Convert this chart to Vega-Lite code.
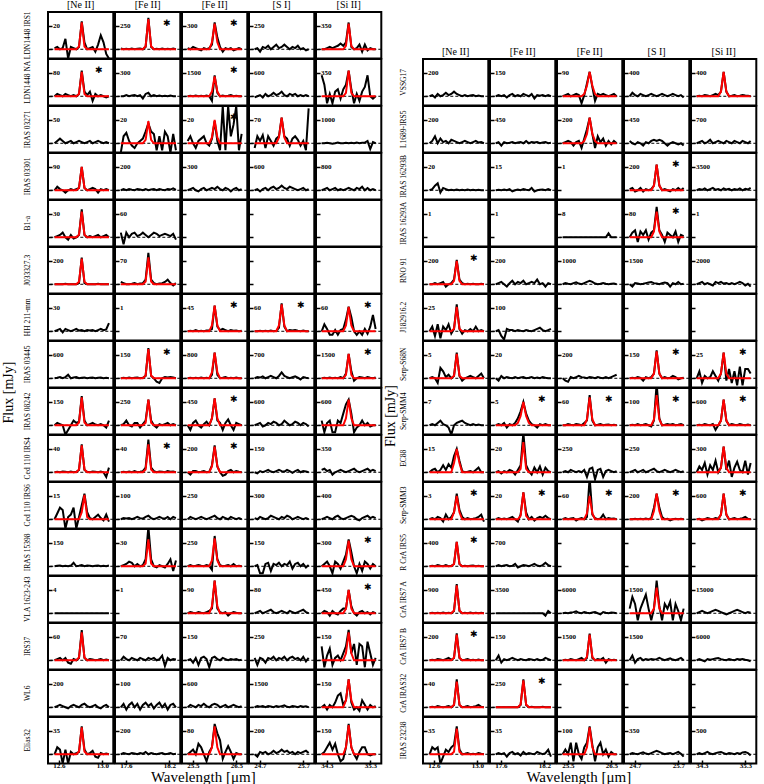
{
"$schema":"https://vega.github.io/schema/vega-lite/v6.json",
"padding":{"left":1,"right":0,"top":0,"bottom":0},
"background":"white",
"datasets":{
"grid":[
{"c":1,"n":"[Ne II]","w":[12.56,12.585,12.61,12.635,12.66,12.685,12.71,12.735,12.76,12.785,12.81,12.835,12.86,12.885,12.91,12.935,12.96,12.985,13.01,13.035,13.06]},
{"c":2,"n":"[Fe II]","w":[17.53,17.568,17.606,17.644,17.682,17.72,17.758,17.796,17.834,17.872,17.91,17.948,17.986,18.024,18.062,18.1,18.138,18.176,18.214,18.252,18.29]},
{"c":3,"n":"[Fe II]","w":[25.38,25.442,25.504,25.566,25.628,25.69,25.752,25.814,25.876,25.938,26.0,26.062,26.124,26.186,26.248,26.31,26.372,26.434,26.496,26.558,26.62]},
{"c":4,"n":"[S I]","w":[24.58,24.642,24.704,24.766,24.828,24.89,24.952,25.014,25.076,25.138,25.2,25.262,25.324,25.386,25.448,25.51,25.572,25.634,25.696,25.758,25.82]},
{"c":5,"n":"[Si II]","w":[34.18,34.242,34.304,34.366,34.428,34.49,34.552,34.614,34.676,34.738,34.8,34.862,34.924,34.986,35.048,35.11,35.172,35.234,35.296,35.358,35.42]}
],
"panels":[
{"g":"L","o":1,"s":"LDN1448 IRS1","c":1,"t":"20","f":[0.05,0.1,0,0.05,0.45,-0.4,0.1,0.05,0,0.1,1.2,0.3,0,0.05,0.1,-0.1,0.2,0.6,0.3,-0.2,-0.4],"r":[0,0,0,0,0,0,0,0,0,0.12,1.15,0.12,0,0,0,0,0,0,0,0,0]},
{"g":"L","o":1,"s":"LDN1448 IRS1","c":2,"t":"250","k":1,"f":[0.03,0,0.02,0,0.03,0,0.02,0.03,0,0.1,1.35,0.1,0,0.02,0,0.03,0,0.02,0,0.03,0],"r":[0,0,0,0,0,0,0,0,0,0.13,1.3,0.13,0,0,0,0,0,0,0,0,0]},
{"g":"L","o":1,"s":"LDN1448 IRS1","c":3,"t":"300","k":1,"f":[0.05,0,0.1,0.05,0,-0.05,0.05,0,0.05,0.2,1.15,0.5,0.1,-0.1,0.05,0,0.05,-0.05,0,0.05,0],"r":[0,0,0,0,0,0,0,0,0,0.3,1.1,0.3,0,0,0,0,0,0,0,0,0]},
{"g":"L","o":1,"s":"LDN1448 IRS1","c":4,"t":"250","f":[0,0.05,-0.1,0.1,0.05,0.15,0,0.1,0.2,0.05,0.1,0.2,0.1,0,0.1,0.05,0.15,0,0.05,-0.05,0],"r":[]},
{"g":"L","o":1,"s":"LDN1448 IRS1","c":5,"t":"350","f":[0,0,0.05,0.1,0.05,0.1,0.15,0.25,0.15,0.3,1.15,0.1,0,0.05,0.2,-0.1,0.2,-0.05,0.05,0,0],"r":[0,0,0,0,0,0,0,0,0,0.15,1.1,0.15,0,0,0,0,0,0,0,0,0]},
{"g":"L","o":2,"s":"LDN1448 NA","c":1,"t":"80","k":1,"f":[0,0.1,0.05,0,0.1,0.05,0,0.05,0,0.1,1.1,0.2,0.05,0.2,-0.2,0.1,0,0.05,0,-0.05,0],"r":[0,0,0,0,0,0,0,0,0,0.1,1.05,0.1,0,0,0,0,0,0,0,0,0]},
{"g":"L","o":2,"s":"LDN1448 NA","c":2,"t":"300","f":[0,0,0.05,0,0.03,0.05,0,0.05,-0.1,0.1,0.15,0,0.05,0,0.03,0,0.02,0,0.03,0,0],"r":[]},
{"g":"L","o":2,"s":"LDN1448 NA","c":3,"t":"1500","k":1,"f":[0,0.02,0,0.03,0,0.02,0,0.03,0,-0.2,0.9,0.15,0,0.03,0,0.02,0.05,0,0.02,0,0],"r":[0,0,0,0,0,0,0,0,0,0.2,0.85,0.2,0,0,0,0,0,0,0,0,0]},
{"g":"L","o":2,"s":"LDN1448 NA","c":4,"t":"600","f":[-0.05,0,0.05,-0.05,0.1,0,0.05,0.15,0.05,0.1,0.2,0.05,0,0.1,0.05,0.1,0,0.05,0,0.05,0],"r":[]},
{"g":"L","o":2,"s":"LDN1448 NA","c":5,"t":"350","f":[0.9,0.5,-0.3,0.1,-0.3,0.2,0.3,-0.1,0.3,0.5,1.1,0.3,-0.3,0.1,-0.2,0.2,0.4,0.9,0,-0.1,0],"r":[0,0,0,0,0,0,0,0,0,0.15,1.1,0.15,0,0,0,0,0,0,0,0,0]},
{"g":"L","o":3,"s":"IRAS 03271","c":1,"t":"50","f":[0,0.1,0.2,0.1,0,0.05,0.1,0,0.05,0.1,0.05,0,0.05,0.1,0,0.05,0.1,0.05,0,0.05,0],"r":[]},
{"g":"L","o":3,"s":"IRAS 03271","c":2,"t":"20","f":[-0.4,0.3,0.45,0.1,-0.1,-0.2,0,0.1,0.2,0.5,0.85,0.5,0.4,-0.3,0.3,-0.3,0.5,0.3,-0.4,0.4,-0.3],"r":[0,0,0,0,0,0,0,0,0,0.15,0.95,0.15,0,0,0,0,0,0,0,0,0]},
{"g":"L","o":3,"s":"IRAS 03271","c":3,"t":"20","k":1,"f":[0.1,0.3,0,-0.2,0.1,0.2,0.3,0,-0.1,0.2,0.95,0.1,-0.3,1.6,-0.3,1.6,0.3,0.8,1.6,-0.3,0.4],"r":[0,0,0,0,0,0,0,0,0,0.25,1.0,0.25,0,0,0,0,0,0,0,0,0]},
{"g":"L","o":3,"s":"IRAS 03271","c":4,"t":"70","f":[-0.2,0.3,0.1,0.35,-0.2,0.3,0.1,-0.1,0.2,0.3,1.1,0.3,0.2,-0.1,0.2,0.3,0.15,-0.1,0.1,-0.3,1.5],"r":[0,0,0,0,0,0,0,0,0,0.25,1.1,0.25,0,0,0,0,0,0,0,0,0]},
{"g":"L","o":3,"s":"IRAS 03271","c":5,"t":"1000","f":[0,0,0.02,0,-0.02,0,0.03,0,0,0.02,0,0.02,0,0.03,0,0.02,0.03,0.1,-0.25,0.05,0],"r":[]},
{"g":"L","o":4,"s":"IRAS 03301","c":1,"t":"90","f":[0,0.15,0.05,0,-0.1,0,0.05,0,0.05,0.1,1.0,0.1,0,0.05,0.1,0.05,-0.1,0.05,0,0.05,0],"r":[0,0,0,0,0,0,0,0,0,0.1,1.0,0.1,0,0,0,0,0,0,0,0,0]},
{"g":"L","o":4,"s":"IRAS 03301","c":2,"t":"200","f":[0,0.05,0,0.05,0.02,0,0.05,0.03,0,0.05,0,0.03,0.05,0,0.05,0.02,0,0.05,0.03,0.08,0.02],"r":[]},
{"g":"L","o":4,"s":"IRAS 03301","c":3,"t":"300","f":[0,0.05,0.1,0,-0.05,0.05,0.1,0,0.05,0.1,0.05,0.15,0.05,0,0.1,0.05,-0.05,0.05,0.1,0,0.05],"r":[]},
{"g":"L","o":4,"s":"IRAS 03301","c":4,"t":"600","f":[0,0.05,-0.05,0.05,0.1,0,0.1,0.15,0.05,0.1,0.2,0.1,0.05,0.15,0.1,0.05,0,0.05,0.1,0,0.05],"r":[]},
{"g":"L","o":4,"s":"IRAS 03301","c":5,"t":"800","f":[0,0.05,0.1,0,0.05,0.1,0,0.05,0,0.05,0.1,0.05,0,0.1,0.05,0.15,0,0.1,0,0.05,0],"r":[]},
{"g":"L","o":5,"s":"B1-a","c":1,"t":"30","f":[0,0.05,0.1,0.2,0,-0.1,0.1,-0.05,0,0.1,1.2,0.1,0,0.05,0,0.05,0.1,0,0.05,0.1,0],"r":[0,0,0,0,0,0,0,0,0,0.11,1.1,0.11,0,0,0,0,0,0,0,0,0]},
{"g":"L","o":5,"s":"B1-a","c":2,"t":"60","f":[0.2,-0.3,0.2,0,0.15,0.2,0.05,0.1,0.2,0.1,0,0.1,0.2,0.15,0.05,0.1,0.15,0.1,0.05,0.15,-0.1],"r":[]},
{"g":"L","o":5,"s":"B1-a","c":3,"t":"","f":[],"r":[]},
{"g":"L","o":5,"s":"B1-a","c":4,"t":"","f":[],"r":[]},
{"g":"L","o":5,"s":"B1-a","c":5,"t":"","f":[],"r":[]},
{"g":"L","o":6,"s":"J033327.3","c":1,"t":"200","f":[0,0,0,0,0.02,0,0,0,0,0.05,1.15,0.05,0,0,0,0,0.02,0,0,0,0],"r":[0,0,0,0,0,0,0,0,0,0.11,1.1,0.11,0,0,0,0,0,0,0,0,0]},
{"g":"L","o":6,"s":"J033327.3","c":2,"t":"70","f":[0.1,0.05,0,0,0.02,0.05,0,0.03,0.05,0.2,1.35,0.2,0.05,0,0.03,0.05,0.1,0.2,0.05,-0.05,0.05],"r":[0,0,0,0,0,0,0,0,0,0.12,1.15,0.12,0,0,0,0,0,0,0,0,0]},
{"g":"L","o":6,"s":"J033327.3","c":3,"t":"","f":[],"r":[]},
{"g":"L","o":6,"s":"J033327.3","c":4,"t":"","f":[],"r":[]},
{"g":"L","o":6,"s":"J033327.3","c":5,"t":"","f":[],"r":[]},
{"g":"L","o":7,"s":"HH 211-mm","c":1,"t":"30","f":[0,0.05,0.1,-0.05,0.1,0.05,0,0.05,0.1,0.03,0.05,0,0.05,0.03,0.05,0,0.05,0.1,0.05,0.08,0.35],"r":[]},
{"g":"L","o":7,"s":"HH 211-mm","c":2,"t":"1","f":[],"r":[]},
{"g":"L","o":7,"s":"HH 211-mm","c":3,"t":"45","k":1,"f":[0,0.02,0,0.05,0,0.02,0,0.03,0.05,0.1,1.1,0.2,0.05,0.1,0.05,0,0.05,0.02,0.03,0,0.02],"r":[0,0,0,0,0,0,0,0,0,0.25,1.1,0.25,0,0,0,0,0,0,0,0,0]},
{"g":"L","o":7,"s":"HH 211-mm","c":4,"t":"60","k":1,"f":[0,0,0.02,0,0.02,0,0.03,0,0.02,0.15,1.2,0.2,0,0.05,0.03,0.05,0.02,0,0.03,0,0],"r":[0,0,0,0,0,0,0,0,0,0.25,1.15,0.25,0,0,0,0,0,0,0,0,0]},
{"g":"L","o":7,"s":"HH 211-mm","c":5,"t":"60","k":1,"f":[0,0.3,0.1,-0.15,-0.15,0.05,-0.15,0.05,0.1,0.5,1.05,0.6,0,-0.15,0,-0.15,0.1,-0.1,0.2,0.7,0.1],"r":[0,0,0,0,0,0,0,0,0,0.25,1.05,0.25,0,0,0,0,0,0,0,0,0]},
{"g":"L","o":8,"s":"IRAS 03445","c":1,"t":"600","f":[0,0.02,0.05,0,0.05,0.15,0,0.03,0.05,0,0.02,0.03,0,0.02,0.03,0,0.02,0.03,0,0.02,0],"r":[]},
{"g":"L","o":8,"s":"IRAS 03445","c":2,"t":"150","k":1,"f":[0,0.02,0,0.03,0,0.02,0.03,0,0.02,0.1,1.3,0.1,0,-0.15,-0.2,0,0.05,0.03,0.05,0.03,0],"r":[0,0,0,0,0,0,0,0,0,0.12,1.25,0.12,0,0,0,0,0,0,0,0,0]},
{"g":"L","o":8,"s":"IRAS 03445","c":3,"t":"800","f":[0,0.02,0,0.02,0,0.03,0,0.02,0,0.15,1.1,0.15,0,0.02,0.05,0,0.02,0,0.03,0,0],"r":[0,0,0,0,0,0,0,0,0,0.25,1.1,0.25,0,0,0,0,0,0,0,0,0]},
{"g":"L","o":8,"s":"IRAS 03445","c":4,"t":"700","f":[0,0.05,0.03,0.08,0,0.05,0.1,0.05,0,0.1,0.25,0.1,0.05,0,0.05,0.08,0.03,-0.05,0.05,0.02,0],"r":[]},
{"g":"L","o":8,"s":"IRAS 03445","c":5,"t":"1500","k":1,"f":[0,0.02,0,0.03,0,0.02,0,0.05,0,0.2,1.05,0.3,-0.1,0,0.05,0.03,0,0.05,0.02,0,0.03],"r":[0,0,0,0,0,0,0,0,0,0.15,1.05,0.15,0,0,0,0,0,0,0,0,0]},
{"g":"L","o":9,"s":"IRAS 08242","c":1,"t":"150","f":[0,0.1,0.05,0,-0.4,-0.2,0,0.2,0.1,0.15,1.25,0.2,0,0.05,0.1,0.03,0,0.05,0,-0.1,0.2],"r":[0,0,0,0,0,0,0,0,0,0.12,1.2,0.12,0,0,0,0,0,0,0,0,0]},
{"g":"L","o":9,"s":"IRAS 08242","c":2,"t":"250","f":[0,0.05,0.2,0,-0.05,0.1,0.1,-0.1,0.05,0.2,1.1,0.2,0,-0.1,0.05,0,0.05,0.1,0,0.05,0],"r":[0,0,0,0,0,0,0,0,0,0.11,1.1,0.11,0,0,0,0,0,0,0,0,0]},
{"g":"L","o":9,"s":"IRAS 08242","c":3,"t":"450","k":1,"f":[0,-0.2,0.1,0.2,0,-0.1,0.05,0.15,0,0.3,1.15,0.2,0.1,-0.2,0.1,0.25,0,-0.2,0.1,0.05,0],"r":[0,0,0,0,0,0,0,0,0,0.3,1.15,0.3,0,0,0,0,0,0,0,0,0]},
{"g":"L","o":9,"s":"IRAS 08242","c":4,"t":"600","f":[0,0.05,0.1,-0.05,0,0.1,0.05,0.15,0.1,0,0.05,0.2,0.1,0,0.05,0.15,0.1,0,0.1,0.05,-0.05],"r":[]},
{"g":"L","o":9,"s":"IRAS 08242","c":5,"t":"600","f":[0.2,-0.3,0.1,0.2,-0.3,-0.3,0.2,0.1,0.5,0.9,1.1,0.5,-0.3,-0.1,0,0.2,0,0.1,-0.05,0,0],"r":[0,0,0,0,0,0,0,0,0,0.3,1.1,0.3,0,0,0,0,0,0,0,0,0]},
{"g":"L","o":10,"s":"Ced 110 IRS4","c":1,"t":"40","f":[0,0.02,0,0.03,0.02,0,0.03,0,0.02,0.1,1.2,0.1,0.02,0,0.03,0.02,0,0.03,0,-0.2,0.2],"r":[0,0,0,0,0,0,0,0,0,0.12,1.15,0.12,0,0,0,0,0,0,0,0,0]},
{"g":"L","o":10,"s":"Ced 110 IRS4","c":2,"t":"40","k":1,"f":[0,0.02,0,0.03,0,0.05,0,0.02,0.05,0.2,1.4,0.2,0.05,0,0.03,0.02,0,0.05,0.02,0.03,0],"r":[0,0,0,0,0,0,0,0,0,0.12,1.2,0.12,0,0,0,0,0,0,0,0,0]},
{"g":"L","o":10,"s":"Ced 110 IRS4","c":3,"t":"200","k":1,"f":[0,-0.1,0.05,0.05,0,0.02,0.05,0,0.02,0.3,1.15,0.25,0,-0.15,-0.1,0.05,0.1,0,0.05,0.02,0],"r":[0,0,0,0,0,0,0,0,0,0.25,1.1,0.25,0,0,0,0,0,0,0,0,0]},
{"g":"L","o":10,"s":"Ced 110 IRS4","c":4,"t":"150","f":[0,-0.05,0.05,0,0.05,0.1,0.03,0,0.05,0.1,0.05,0.03,0.1,0.05,-0.02,0.05,0.1,0,0.05,0.03,0],"r":[]},
{"g":"L","o":10,"s":"Ced 110 IRS4","c":5,"t":"350","f":[0.1,0.15,0.05,0.1,-0.1,0,0.05,0.1,0.05,0,0.05,0.1,0.15,0.05,0,0.05,0.1,0.15,0.05,0.1,0.05],"r":[]},
{"g":"L","o":11,"s":"Ced 110 IRS6","c":1,"t":"15","f":[0,0.25,0.5,0.4,-0.4,0.1,0.2,0.5,-0.4,0.1,0.6,1.1,0.3,0.05,0,0.1,0.2,0.05,-0.05,0.2,-0.1],"r":[0,0,0,0,0,0,0,0,0,0,0.3,1.05,0.1,0,0,0,0,0,0,0,0]},
{"g":"L","o":11,"s":"Ced 110 IRS6","c":2,"t":"100","f":[0,0.05,0.03,0.05,0,0.05,0.1,0.05,0.03,0.1,0.15,0.05,0,0.05,0.1,0.05,0.03,0.1,0,0.1,0.05],"r":[]},
{"g":"L","o":11,"s":"Ced 110 IRS6","c":3,"t":"250","f":[0,0.1,0.05,0,0.05,0.1,0.05,0,0.05,0.1,0.15,0.05,0,0.1,0.05,0,0.1,0.05,0,0.05,0],"r":[]},
{"g":"L","o":11,"s":"Ced 110 IRS6","c":4,"t":"300","f":[0.05,0,0.1,0.05,0,0.05,0.15,0.1,0.05,0,0.1,0.05,0.15,0.1,0,0.05,0.1,0.05,0,0.05,0],"r":[]},
{"g":"L","o":11,"s":"Ced 110 IRS6","c":5,"t":"400","f":[0,0.05,0.1,0.05,0,0.1,0.15,0.05,0,0.05,0.1,0.15,0.1,0,-0.05,0.05,0.1,0.15,0.05,0.1,0.05],"r":[]},
{"g":"L","o":12,"s":"IRAS 15398","c":1,"t":"150","f":[0,0.02,0.03,0,0.02,0,0.03,0.15,0,0.02,0.05,0,0.03,0.02,0,0.02,0.03,0,0.02,0,0.03],"r":[]},
{"g":"L","o":12,"s":"IRAS 15398","c":2,"t":"30","f":[0,0.05,0.1,0.2,0.15,0,0.1,0,0.05,0.3,1.7,0.3,0,-0.05,0.05,0,-0.05,0.1,0.3,-0.2,0.25],"r":[0,0,0,0,0,0,0,0,0,0.12,1.15,0.12,0,0,0,0,0,0,0,0,0]},
{"g":"L","o":12,"s":"IRAS 15398","c":3,"t":"250","f":[0,0.05,0,0.02,0.05,0.02,0,0.05,0.02,-0.15,1.3,0.3,0.05,0,0.02,0.05,0,0.1,0,0.02,0],"r":[0,0,0,0,0,0,0,0,0,0.25,1.2,0.25,0,0,0,0,0,0,0,0,0]},
{"g":"L","o":12,"s":"IRAS 15398","c":4,"t":"150","f":[0,0.05,-0.3,-0.3,0.1,0.15,-0.2,0.1,0.05,0.15,0,0.1,0.05,0.2,-0.1,0.1,0.15,0,0.1,-0.05,0.05],"r":[]},
{"g":"L","o":12,"s":"IRAS 15398","c":5,"t":"300","k":1,"f":[0,0.1,0.2,0,-0.3,0.2,0.1,-0.1,0.2,0.5,1.15,0.6,0,-0.3,0.1,-0.2,0.2,0.1,-0.1,0.1,0],"r":[0,0,0,0,0,0,0,0,0,0.3,1.1,0.3,0,0,0,0,0,0,0,0,0]},
{"g":"L","o":13,"s":"VLA 1623-243","c":1,"t":"4","f":[0,0,0,0,0,0,0,0,0,0,0,0,0,0,0,0,0,0,0,0,0],"r":[]},
{"g":"L","o":13,"s":"VLA 1623-243","c":2,"t":"1","f":[],"r":[]},
{"g":"L","o":13,"s":"VLA 1623-243","c":3,"t":"90","f":[0,0.05,0.02,0,0.05,0.02,0,0.05,0.1,0.2,1.4,0.2,0.05,0,0.05,-0.1,0,0.05,0.02,0,0],"r":[0,0,0,0,0,0,0,0,0,0.3,1.4,0.3,0,0,0,0,0,0,0,0,0]},
{"g":"L","o":13,"s":"VLA 1623-243","c":4,"t":"80","f":[0,0.05,0.1,0,0.05,0.1,0.15,0.05,0,0.05,0.1,0.05,0,0.1,0.05,0,0.05,0.1,0.15,0.05,0],"r":[]},
{"g":"L","o":13,"s":"VLA 1623-243","c":5,"t":"450","k":1,"f":[0,0.1,0.05,-0.1,0.1,0,-0.05,0.1,0.2,0.2,1.0,0.3,0,-0.1,0.05,0.1,0,0.05,-0.05,0.05,0],"r":[0,0,0,0,0,0,0,0,0,0.2,1.0,0.2,0,0,0,0,0,0,0,0,0]},
{"g":"L","o":14,"s":"IRS37","c":1,"t":"60","f":[0,0.05,0.1,0,0.1,-0.1,-0.15,0.05,0,0.1,1.3,0.1,0,0.05,0.03,0,0.02,0.05,0,0.03,0],"r":[0,0,0,0,0,0,0,0,0,0.12,1.2,0.12,0,0,0,0,0,0,0,0,0]},
{"g":"L","o":14,"s":"IRS37","c":2,"t":"70","f":[0,0.15,0.05,0,0.1,0.05,0,0.1,0.05,0,0.1,0.05,0.1,0,0.05,0.2,-0.25,0.1,0,0.05,0.03],"r":[]},
{"g":"L","o":14,"s":"IRS37","c":3,"t":"150","f":[0,0.05,-0.1,0.1,-0.2,0.1,0.15,0.05,-0.3,0.1,0.15,0.05,0,0.1,0.05,0,0.05,0.02,0.05,0,0.02],"r":[]},
{"g":"L","o":14,"s":"IRS37","c":4,"t":"250","f":[0.1,-0.2,0.1,0.05,-0.1,0.1,0.05,0.15,0,0.1,0.05,0.15,0,0.1,0.15,0.05,0.1,0,0.15,-0.05,0.1],"r":[]},
{"g":"L","o":14,"s":"IRS37","c":5,"t":"150","f":[0.6,-0.3,0.2,0.5,-0.2,0.1,0.2,0,0.3,0.6,1.3,0.3,0.7,-0.2,0.7,0.6,-0.3,0.8,0.3,-0.2,0.1],"r":[0,0,0,0,0,0,0,0,0,0.3,1.2,0.3,0,0,0,0,0,0,0,0,0]},
{"g":"L","o":15,"s":"WL6","c":1,"t":"200","f":[0,0.05,0.1,0.05,0,-0.05,0.05,0.1,0.05,0,0.1,0.15,0.05,0,0.05,0.1,0,-0.05,0.05,0.1,0],"r":[]},
{"g":"L","o":15,"s":"WL6","c":2,"t":"100","f":[0,0.15,-0.1,0.1,0.2,0,0.15,-0.1,0.1,0.2,0.05,0.15,-0.05,0.1,0.2,0,0.15,-0.1,0.1,0.15,0],"r":[]},
{"g":"L","o":15,"s":"WL6","c":3,"t":"600","f":[0,0.1,0.05,0,0.1,0.05,0.15,0.05,0,0.1,0.15,0.1,0,0.05,0.1,0,0.05,0.1,0.05,0,0.05],"r":[]},
{"g":"L","o":15,"s":"WL6","c":4,"t":"1500","f":[0,0.05,0.02,0.05,0,0.05,0.03,0,0.05,0.02,0.05,0.08,0.02,0,0.05,0.03,0,0.05,0.02,0.04,0],"r":[]},
{"g":"L","o":15,"s":"WL6","c":5,"t":"150","f":[0,0.1,-0.1,0.1,0,0.2,0.5,0.6,0.1,0.3,1.2,0.2,-0.1,0,-0.15,0.3,0.1,-0.1,0.1,0,0.05],"r":[0,0,0,0,0,0,0,0,0,0.3,1.2,0.3,0,0,0,0,0,0,0,0,0]},
{"g":"L","o":16,"s":"Elias32","c":1,"t":"35","f":[0,0.3,0.2,-0.4,0.2,-0.4,0.1,0,0.05,0.1,1.2,0.2,0,0.05,0.15,-0.1,-0.15,0.05,0,0.03,0],"r":[0,0,0,0,0,0,0,0,0,0.12,1.15,0.12,0,0,0,0,0,0,0,0,0]},
{"g":"L","o":16,"s":"Elias32","c":2,"t":"200","f":[0,0.05,0.02,0,0.05,0.03,0,0.05,0.02,0.1,0,0.05,0.02,0,0.03,0.05,0,0.02,0.05,0,0.02],"r":[]},
{"g":"L","o":16,"s":"Elias32","c":3,"t":"80","f":[0,0.1,0.2,0,0.45,0.3,0,-0.3,0.1,0.3,1.3,0.9,0.6,-0.2,0.1,0.35,0.1,-0.2,0.05,0,0],"r":[0,0,0,0,0,0,0,0,0,0.3,1.2,0.3,0,0,0,0,0,0,0,0,0]},
{"g":"L","o":16,"s":"Elias32","c":4,"t":"200","f":[0,-0.1,0.1,0.05,0.1,0,0.05,0.15,0.05,0.1,0.2,0.1,0.15,0.05,0.1,0,0.1,0.05,0.1,0.15,0.05],"r":[]},
{"g":"L","o":16,"s":"Elias32","c":5,"t":"150","f":[0,0.1,0.3,0.5,0.2,0.45,0,-0.3,-0.2,0.3,1.3,0.3,0,-0.2,0.1,0.3,0.3,0,-0.05,0,0],"r":[0,0,0,0,0,0,0,0,0,0.3,1.25,0.3,0,0,0,0,0,0,0,0,0]},
{"g":"R","o":1,"s":"VSSG17","c":1,"t":"200","f":[0,0.05,-0.05,0.1,0,0.05,0.15,0.05,0.1,0.2,0.1,0.05,0,0.05,0,0.03,0.05,0,0.03,0,0],"r":[]},
{"g":"R","o":1,"s":"VSSG17","c":2,"t":"150","f":[0,0.05,0,0.05,-0.05,0.05,0.1,0,0.05,0,0.1,0.05,0,0.1,-0.1,0.05,0.02,0.05,0,0.05,0],"r":[]},
{"g":"R","o":1,"s":"VSSG17","c":3,"t":"90","f":[0,0.05,0.1,0,0.05,0.1,0.05,-0.3,0.05,0.55,1.05,0.4,-0.2,0.1,0.05,0.1,0.05,0,0.05,0.1,0],"r":[0,0,0,0,0,0,0,0,0.1,0.45,1.05,0.45,0.1,0,0,0,0,0,0,0,0]},
{"g":"R","o":1,"s":"VSSG17","c":4,"t":"400","f":[0,0.15,0.05,0,0.1,0.05,0,0.05,0.1,0.05,0,0.05,0.1,0.05,0,0.05,0.1,0.05,0,0.05,-0.05],"r":[]},
{"g":"R","o":1,"s":"VSSG17","c":5,"t":"400","f":[0,0.02,0,0.05,0.03,0,0.05,0.1,0.05,0.2,1.05,0.2,0,0.02,0.05,0,0.02,0.05,0.03,0.02,0],"r":[0,0,0,0,0,0,0,0,0,0.2,1.05,0.2,0,0,0,0,0,0,0,0,0]},
{"g":"R","o":2,"s":"L1689-IRS5","c":1,"t":"200","f":[0,0.1,0.3,0,0.2,0.05,0.1,0,0.15,0.1,0.05,0,0.05,0.1,0.05,0,0.05,0.1,0.03,0.05,0],"r":[]},
{"g":"R","o":2,"s":"L1689-IRS5","c":2,"t":"450","f":[0,0.05,-0.1,0.05,0,0.02,0.05,0,0.03,0.05,0,0.1,0,0.05,0.03,0.05,0,0.03,0.05,0,0.02],"r":[]},
{"g":"R","o":2,"s":"L1689-IRS5","c":3,"t":"200","f":[0,0.05,0.1,0.05,-0.1,0.05,0.1,-0.2,0.2,0.6,1.1,0.4,-0.2,0.3,0.05,0.2,-0.1,0.1,-0.05,0.1,0],"r":[0,0,0,0,0,0,0,0,0.1,0.4,1.1,0.4,0.1,0,0,0,0,0,0,0,0]},
{"g":"R","o":2,"s":"L1689-IRS5","c":4,"t":"450","f":[0.1,0,-0.05,0.05,0,-0.1,0.05,0,0.1,0.15,0.1,0.15,0.1,0,-0.1,0,0.05,0,-0.05,0,-0.1],"r":[]},
{"g":"R","o":2,"s":"L1689-IRS5","c":5,"t":"700","f":[0,0.05,0.1,0,0.05,0.15,0,0.05,0.1,0.05,0,0.1,0.05,0,0.1,0.05,0,0.1,0.05,0,0.1],"r":[]},
{"g":"R","o":3,"s":"IRAS 16293B","c":1,"t":"20","f":[0,0.05,0.2,0.3,-0.1,0.1,0.05,0,0.02,0,0.03,0,0.02,0,0.03,0,0.02,0,0.02,0,0],"r":[]},
{"g":"R","o":3,"s":"IRAS 16293B","c":2,"t":"15","f":[0,0.02,0,0.03,0,0.05,-0.05,0,0.03,0,0.05,0.02,0,0.1,-0.05,0,0.02,0.03,0,0.05,0],"r":[]},
{"g":"R","o":3,"s":"IRAS 16293B","c":3,"t":"1","f":[],"r":[]},
{"g":"R","o":3,"s":"IRAS 16293B","c":4,"t":"200","k":1,"f":[0.05,0.1,-0.05,0,0.1,-0.05,0.05,0,0.05,0.2,1.1,0.2,0,0.05,0,-0.05,0.05,0,0.1,0,0.1],"r":[0,0,0,0,0,0,0,0,0,0.2,1.1,0.2,0,0,0,0,0,0,0,0,0]},
{"g":"R","o":3,"s":"IRAS 16293B","c":5,"t":"3500","f":[0,0.05,0.02,0.08,0,0.05,0.1,0.02,0.05,0,0.08,0.03,0.06,0,0.05,0.02,0.08,0,0.06,0.03,0.1],"r":[]},
{"g":"R","o":4,"s":"IRAS 16293A","c":1,"t":"1","f":[],"r":[]},
{"g":"R","o":4,"s":"IRAS 16293A","c":2,"t":"1","f":[],"r":[]},
{"g":"R","o":4,"s":"IRAS 16293A","c":3,"t":"8","f":[0,0,0,0,0,0,0,0,0,0,0,0,0,0,0,0,0,0.17,0,0,0],"r":[]},
{"g":"R","o":4,"s":"IRAS 16293A","c":4,"t":"80","k":1,"f":[0,0.2,0.3,-0.2,0.25,0.1,0.3,-0.1,0.2,0.3,1.3,0.3,0.1,-0.2,0.2,0.1,0,0.25,-0.2,0.1,0.05],"r":[0,0,0,0,0,0,0,0,0,0.25,1.1,0.25,0,0,0,0,0,0,0,0,0]},
{"g":"R","o":4,"s":"IRAS 16293A","c":5,"t":"1","f":[],"r":[]},
{"g":"R","o":5,"s":"RNO 91","c":1,"t":"200","k":1,"f":[0,0,0.05,0,0.05,0.1,-0.1,0,0.05,0.2,1.05,0.2,0.05,0,0.02,0,0.02,0,0,0.02,0],"r":[0,0,0,0,0,0,0,0,0,0.15,1.0,0.15,0,0,0,0,0,0,0,0,0]},
{"g":"R","o":5,"s":"RNO 91","c":2,"t":"200","f":[0,0.05,0.1,0,-0.1,0.05,0.15,0,0.1,0.05,0.15,0,0.05,0.1,0.05,0.2,0,0.05,-0.1,0.05,0],"r":[]},
{"g":"R","o":5,"s":"RNO 91","c":3,"t":"1000","f":[0,0.05,0.02,0,0.05,0.08,0.03,0,0.05,0.1,0.15,0.1,0.03,0,0.02,0.05,0.02,0,0.02,0.03,0],"r":[]},
{"g":"R","o":5,"s":"RNO 91","c":4,"t":"1500","f":[0,-0.1,0.05,0.03,0,0.02,0.05,0.08,0.1,0.05,0.03,0,0.05,0.08,0.05,-0.1,0.05,0,0.1,0,0.02],"r":[]},
{"g":"R","o":5,"s":"RNO 91","c":5,"t":"2000","f":[0,0.05,0.1,0,0.05,0,-0.05,0.1,0.05,0.1,0.03,0.05,0,0.05,0,0.05,0.1,0.05,-0.05,0.02,-0.1],"r":[]},
{"g":"R","o":6,"s":"J182916.2","c":1,"t":"25","f":[0,0.2,-0.2,0.3,-0.3,0.2,0.05,0.3,-0.1,0.1,1.15,0.1,-0.1,0.05,0,0.1,0,0.2,0,0.05,0],"r":[0,0,0,0,0,0,0,0,0,0.11,1.05,0.11,0,0,0,0,0,0,0,0,0]},
{"g":"R","o":6,"s":"J182916.2","c":2,"t":"100","f":[0,0.05,-0.2,-0.35,0.1,0.05,0.05,0,0.05,0.02,0,0.05,0.02,0,0.05,0.1,0.15,0.05,0,0.05,0.1],"r":[]},
{"g":"R","o":6,"s":"J182916.2","c":3,"t":"","f":[],"r":[]},
{"g":"R","o":6,"s":"J182916.2","c":4,"t":"","f":[],"r":[]},
{"g":"R","o":6,"s":"J182916.2","c":5,"t":"","f":[],"r":[]},
{"g":"R","o":7,"s":"Serp-S68N","c":1,"t":"5","f":[0,0.05,0,-0.2,0.45,0.3,0.05,0.15,0,0.1,1.1,0.1,-0.1,0,0.05,0.1,0.05,0,0.1,0.2,0],"r":[0,0,0,0,0,0,0,0,0,0.11,1.05,0.11,0,0,0,0,0,0,0,0,0]},
{"g":"R","o":7,"s":"Serp-S68N","c":2,"t":"20","f":[0,-0.1,0.1,0,0.05,0.02,0,0.05,0,0.03,0.05,0,0.02,0.05,0,0.03,0,0.05,0.02,0,0],"r":[]},
{"g":"R","o":7,"s":"Serp-S68N","c":3,"t":"200","f":[0,-0.1,-0.15,0.05,0,0.05,0.1,0.05,0.03,0,0.05,0.03,0,0.05,0.02,0,0.05,0,0.05,0.1,0.15],"r":[]},
{"g":"R","o":7,"s":"Serp-S68N","c":4,"t":"150","k":1,"f":[0,0.02,0,0.05,0.02,-0.1,0.05,0,0.05,0.2,1.2,0.2,0,0.05,0,0.02,0.1,0.05,-0.05,0,0.02],"r":[0,0,0,0,0,0,0,0,0,0.2,1.15,0.2,0,0,0,0,0,0,0,0,0]},
{"g":"R","o":7,"s":"Serp-S68N","c":5,"t":"25","k":1,"f":[0,0.3,-0.2,0.1,0,0.05,0.3,0.1,-0.1,0.2,1.1,-0.1,0.4,-0.2,0.3,-0.3,0.5,-0.3,0.4,0.4,0.2],"r":[0,0,0,0,0,0,0,0,0,0.2,1.1,0.2,0,0,0,0,0,0,0,0,0]},
{"g":"R","o":8,"s":"Serp-SMM4","c":1,"t":"7","f":[0,0.05,0,0.1,0.2,0.05,0,-0.1,-0.4,0,0.1,0.15,0.2,0.1,0.05,0,0.05,0,0.03,0,0],"r":[]},
{"g":"R","o":8,"s":"Serp-SMM4","c":2,"t":"5","k":1,"f":[0,0.05,0,0.1,-0.1,0.05,0,0.1,0.3,0.6,1.0,0.5,0.2,0.05,0,-0.1,0.05,0,0.05,0,0],"r":[0,0,0,0,0,0,0,0,0.1,0.4,1.0,0.4,0.1,0,0,0,0,0,0,0,0]},
{"g":"R","o":8,"s":"Serp-SMM4","c":3,"t":"60","k":1,"f":[0,0,0.05,0.02,0,0.05,0.03,0,0.1,0.2,1.3,0.2,0,0.02,0.05,0,0.02,0.03,0,0.02,0],"r":[0,0,0,0,0,0,0,0,0,0.25,1.2,0.25,0,0,0,0,0,0,0,0,0]},
{"g":"R","o":8,"s":"Serp-SMM4","c":4,"t":"100","k":1,"f":[0,0.02,0,0.05,0,0.02,0.05,0,-0.05,0.2,1.8,0.3,0,0.02,0.05,0.02,0.05,0,0.02,0.05,0],"r":[0,0,0,0,0,0,0,0,0,0.25,1.3,0.25,0,0,0,0,0,0,0,0,0]},
{"g":"R","o":8,"s":"Serp-SMM4","c":5,"t":"600","k":1,"f":[0,0.02,0,0.05,0.02,0,0.05,-0.2,0,0.2,1.1,0.2,0,0.05,0.02,0,0.05,0.02,0,0.03,0],"r":[0,0,0,0,0,0,0,0,0,0.2,1.1,0.2,0,0,0,0,0,0,0,0,0]},
{"g":"R","o":9,"s":"EC88","c":1,"t":"15","f":[0,0.1,0.15,0,0.1,0.3,0.1,0.35,0.2,0.7,1.0,0.5,0.05,0,0.02,0.05,0,0.1,0.2,0,0],"r":[0,0,0,0,0,0,0,0,0,0.4,1.0,0.4,0,0,0,0,0,0,0,0,0]},
{"g":"R","o":9,"s":"EC88","c":2,"t":"20","f":[0,0.05,-0.05,0.05,0,0.1,0.05,-0.1,0.1,0.3,1.7,0.3,0.05,-0.1,0.2,0,0.25,-0.1,0.2,0.05,0],"r":[0,0,0,0,0,0,0,0,0,0.15,1.3,0.15,0,0,0,0,0,0,0,0,0]},
{"g":"R","o":9,"s":"EC88","c":3,"t":"250","f":[0,0.05,0,0.1,0.05,0,0.05,0,0.1,-0.2,0.15,0.2,-0.3,0.1,0.15,-0.2,0.05,0.1,0.05,0,0.05],"r":[]},
{"g":"R","o":9,"s":"EC88","c":4,"t":"250","f":[0,0.05,0.1,0,0.05,0.1,0,0.05,0.1,0.15,0.05,0,0.05,0.1,0.05,0,0.05,0.1,0.05,0,0.05],"r":[]},
{"g":"R","o":9,"s":"EC88","c":5,"t":"300","f":[0,0.25,0.1,0.4,-0.1,0.3,0.1,0.5,0,0.2,1.1,0.1,0.5,-0.2,0.2,0.45,0.1,0,0.5,-0.1,0.4],"r":[0,0,0,0,0,0,0,0,0,0.2,1.1,0.2,0,0,0,0,0,0,0,0,0]},
{"g":"R","o":10,"s":"Serp-SMM3","c":1,"t":"3","k":1,"f":[0,0.05,0,0.1,0.05,-0.1,0.2,0,0.1,0.3,1.1,0.4,0.1,0,0.05,0,0.02,0.05,0.1,0.2,-0.1],"r":[0,0,0,0,0,0,0,0,0,0.3,1.0,0.3,0,0,0,0,0,0,0,0,0]},
{"g":"R","o":10,"s":"Serp-SMM3","c":2,"t":"20","k":1,"f":[0,0.05,0,0.03,0,0.05,0.1,0,-0.1,0.2,1.15,0.3,0,0.1,-0.05,0.05,0.1,0.05,0.15,0.05,0],"r":[0,0,0,0,0,0,0,0,0,0.15,1.15,0.15,0,0,0,0,0,0,0,0,0]},
{"g":"R","o":10,"s":"Serp-SMM3","c":3,"t":"60","k":1,"f":[0,0.05,0,0.03,0.05,-0.05,0.02,0.05,0,0.1,1.8,0.2,0.05,0,0.03,0.2,0,0.05,0.02,0.03,0],"r":[0,0,0,0,0,0,0,0,0,0.25,1.0,0.25,0,0,0,0,0,0,0,0,0]},
{"g":"R","o":10,"s":"Serp-SMM3","c":4,"t":"200","k":1,"f":[0,0,0.02,0,0.02,0,0.03,0,0.05,0.5,1.1,0.5,0.1,0,0.02,-0.05,0,0.02,0,0.02,0],"r":[0,0,0,0,0,0,0,0,0,0.35,1.1,0.35,0,0,0,0,0,0,0,0,0]},
{"g":"R","o":10,"s":"Serp-SMM3","c":5,"t":"600","k":1,"f":[0,0.02,-0.05,0,0.05,0.02,0,0.05,0.02,0.2,1.1,0.2,0,0.02,0.05,0,0.02,0.05,0.1,0.02,0],"r":[0,0,0,0,0,0,0,0,0,0.2,1.1,0.2,0,0,0,0,0,0,0,0,0]},
{"g":"R","o":11,"s":"R CrA IRS5","c":1,"t":"400","k":1,"f":[0,0.02,0,0.05,0.02,0,0.05,0,0.02,0.1,1.05,0.1,0,0.02,0,0.02,0.03,0,0.02,0,0],"r":[0,0,0,0,0,0,0,0,0,0.1,1.05,0.1,0,0,0,0,0,0,0,0,0]},
{"g":"R","o":11,"s":"R CrA IRS5","c":2,"t":"700","f":[0,0.05,0,0.03,0.05,0,0.02,0.1,-0.05,0,0.05,0.03,0,0.05,0.1,0.03,0,0.05,0.15,0.05,0],"r":[]},
{"g":"R","o":11,"s":"R CrA IRS5","c":3,"t":"","f":[],"r":[]},
{"g":"R","o":11,"s":"R CrA IRS5","c":4,"t":"","f":[],"r":[]},
{"g":"R","o":11,"s":"R CrA IRS5","c":5,"t":"","f":[],"r":[]},
{"g":"R","o":12,"s":"CrA IRS7 A","c":1,"t":"900","f":[0,0.02,0,0.02,0,0.03,0,0.02,0,0.1,1.25,0.1,0,0.02,0,0.03,0,0.02,0,0.02,0],"r":[0,0,0,0,0,0,0,0,0,0.12,1.2,0.12,0,0,0,0,0,0,0,0,0]},
{"g":"R","o":12,"s":"CrA IRS7 A","c":2,"t":"3500","f":[0,0,0,0,0,0,0,0,0,0,0,0,0,0,0,0,0,0,-0.1,0.1,0],"r":[]},
{"g":"R","o":12,"s":"CrA IRS7 A","c":3,"t":"6000","f":[0,0.02,0,0.03,0.05,0.08,0.02,0,0.05,0.02,0,0.03,0.05,0,-0.05,0.05,0.02,0,0.03,0.02,0],"r":[]},
{"g":"R","o":12,"s":"CrA IRS7 A","c":4,"t":"1500","f":[0.2,0.7,0.4,-0.3,0.2,0.5,0.8,0.2,-0.3,0.2,1.4,0.3,-0.3,0.4,0.2,0.5,-0.3,0.4,0.1,-0.3,0.2],"r":[0,0,0,0,0,0,0,0,0,0.2,1.1,0.2,0,0,0,0,0,0,0,0,0]},
{"g":"R","o":12,"s":"CrA IRS7 A","c":5,"t":"15000","f":[0,0.05,0.1,0.05,0,0.05,0.1,0.15,0.1,0.05,0,-0.05,0,0.05,0.1,0.15,0.1,0.05,0,0.05,0.02],"r":[]},
{"g":"R","o":13,"s":"CrA IRS7 B","c":1,"t":"200","k":1,"f":[0,0.02,0,0.05,0.03,0,0.05,0.1,0.02,0.1,1.15,0.1,0,0.02,0.05,0,0.02,0,0.03,0,0],"r":[0,0,0,0,0,0,0,0,0,0.11,1.1,0.11,0,0,0,0,0,0,0,0,0]},
{"g":"R","o":13,"s":"CrA IRS7 B","c":2,"t":"150","f":[0,0.2,-0.1,0.05,0,0.05,0.1,0.05,0,0.05,0.02,0,0.05,0.03,0,0.05,0,0.02,0.1,0.05,0],"r":[]},
{"g":"R","o":13,"s":"CrA IRS7 B","c":3,"t":"1500","f":[0,0.02,0,0.05,0.02,0,0.05,0.1,0,0.1,1.15,0.1,0,0.05,0.02,0.1,-0.1,0.05,0,0.02,0],"r":[0,0,0,0,0,0,0,0,0,0.15,1.1,0.15,0,0,0,0,0,0,0,0,0]},
{"g":"R","o":13,"s":"CrA IRS7 B","c":4,"t":"1500","f":[0,0.2,-0.1,0.05,0.1,0,0.05,0.02,0.05,0.03,0.05,0.1,0.05,0,0.05,0.08,0.03,0,0.05,0.1,0],"r":[]},
{"g":"R","o":13,"s":"CrA IRS7 B","c":5,"t":"6000","f":[0,0.05,0,-0.05,0.05,0.02,0.05,0.08,0.1,0.05,0.02,0,0.05,0.02,0,0.05,0.03,0.05,0.02,0,-0.05],"r":[]},
{"g":"R","o":14,"s":"CrA IRAS32","c":1,"t":"40","f":[0,0.02,0,0.05,0.02,0,0.02,0.05,0,0.1,1.2,0.1,0,0.02,0.05,0,0.02,0.05,0.1,0.02,0],"r":[0,0,0,0,0,0,0,0,0,0.11,1.1,0.11,0,0,0,0,0,0,0,0,0]},
{"g":"R","o":14,"s":"CrA IRAS32","c":2,"t":"250","k":1,"f":[0,0,0,0,0,0,0,0,0,0.1,1.2,0.1,0,0.02,0,0,0,0.02,0,0,0],"r":[0,0,0,0,0,0,0,0,0,0.12,1.15,0.12,0,0,0,0,0,0,0,0,0]},
{"g":"R","o":14,"s":"CrA IRAS32","c":3,"t":"","f":[],"r":[]},
{"g":"R","o":14,"s":"CrA IRAS32","c":4,"t":"","f":[],"r":[]},
{"g":"R","o":14,"s":"CrA IRAS32","c":5,"t":"","f":[],"r":[]},
{"g":"R","o":15,"s":"IRAS 23238","c":1,"t":"35","f":[0,0.3,0.2,0.3,-0.4,-0.1,0.2,0.1,0.3,0.4,1.2,0.2,0,0.02,0.05,0,0.02,0,0.05,0.02,0],"r":[0,0,0,0,0,0,0,0,0,0.11,1.1,0.11,0,0,0,0,0,0,0,0,0]},
{"g":"R","o":15,"s":"IRAS 23238","c":2,"t":"35","f":[0,0.05,0,0.05,-0.1,0.05,0.1,0,0.05,-0.05,0.1,0,0.05,0.02,0,0.1,0.05,0,0.05,0.2,-0.1],"r":[]},
{"g":"R","o":15,"s":"IRAS 23238","c":3,"t":"100","f":[0,0.2,0,0.5,-0.3,0.5,0,-0.2,0.3,0.5,1.2,0.4,-0.3,0.3,0.5,0,0.2,-0.1,0.1,0,0],"r":[0,0,0,0,0,0,0,0,0,0.3,1.15,0.3,0,0,0,0,0,0,0,0,0]},
{"g":"R","o":15,"s":"IRAS 23238","c":4,"t":"350","f":[0,0.05,0.02,0,0.05,0.08,0.03,0,0.05,0.1,0.15,0.1,0.05,0,0.03,0.05,0,0.05,0.1,0.02,-0.1],"r":[]},
{"g":"R","o":15,"s":"IRAS 23238","c":5,"t":"500","f":[0,0.05,0,0.05,0.1,0.03,0,0.05,0.08,0.1,0.05,0,0.05,0.03,0,0.05,0.02,0.08,0.1,0.05,-0.05],"r":[]}
]
},
"hconcat":[
{"hconcat":[{"hconcat":[
{"data":{"name":"panels"},"transform":[{"filter":"datum.g=='L' && datum.c==1"},{"lookup":"c","from":{"data":{"name":"grid"},"key":"c","fields":["n","w"]}},{"flatten":["w","f","r"]}],
"facet":{"row":{"field":"s","type":"nominal","sort":{"field":"o","op":"min"},"title":null,"header":{"labelAngle":-90,"labelPadding":12,"labelFontSize":7.5}},"column":{"field":"n","type":"nominal","title":null}},"spacing":0,"bounds":"flush",
"spec":{"width":65.3,"height":46.6,"layer":[
{"transform":[{"aggregate":[{"op":"valid","field":"f","as":"nv"}],"groupby":["s","o","n","t","k"]},{"filter":"datum.nv>0"}],"mark":{"type":"rule","strokeDash":[3,2],"strokeWidth":1,"color":"#000"},"encoding":{"y":{"datum":0}}},
{"mark":{"type":"line","color":"#000","strokeWidth":2,"clip":true},"encoding":{"x":{"field":"w","type":"quantitative","title":null,"scale":{"domain":[12.5,13.1],"nice":false,"zero":false},"axis":{"values":[12.6,12.8,13.0],"format":".1f","labelExpr":"datum.index==0.5?'':datum.label"}},"y":{"field":"f","type":"quantitative","title":null,"scale":{"domain":[-0.4,1.6],"nice":false,"zero":false},"axis":{"values":[0,1],"labels":false,"minExtent":0,"maxExtent":0}}}},
{"mark":{"type":"line","color":"#f00","strokeWidth":2,"clip":true},"encoding":{"x":{"field":"w","type":"quantitative","title":null},"y":{"field":"r","type":"quantitative","title":null}}},
{"transform":[{"aggregate":[{"op":"count","as":"m"}],"groupby":["s","o","n","t","k"]}],"mark":{"type":"text","align":"left","dx":5,"font":"Liberation Serif","fontWeight":"bold","fontSize":7},"encoding":{"x":{"datum":12.5},"y":{"datum":1},"text":{"field":"t"}}},
{"transform":[{"filter":"datum.k==1"},{"aggregate":[{"op":"count","as":"m"}],"groupby":["s","o","n"]}],"mark":{"type":"text","text":"✱","fontSize":9},"encoding":{"x":{"datum":12.97},"y":{"datum":1.12}}}
]}},
{"data":{"name":"panels"},"transform":[{"filter":"datum.g=='L' && datum.c==2"},{"lookup":"c","from":{"data":{"name":"grid"},"key":"c","fields":["n","w"]}},{"flatten":["w","f","r"]}],
"facet":{"row":{"field":"s","type":"nominal","sort":{"field":"o","op":"min"},"title":null,"header":{"labels":false}},"column":{"field":"n","type":"nominal","title":null}},"spacing":0,"bounds":"flush",
"spec":{"width":65.3,"height":46.6,"layer":[
{"transform":[{"aggregate":[{"op":"valid","field":"f","as":"nv"}],"groupby":["s","o","n","t","k"]},{"filter":"datum.nv>0"}],"mark":{"type":"rule","strokeDash":[3,2],"strokeWidth":1,"color":"#000"},"encoding":{"y":{"datum":0}}},
{"mark":{"type":"line","color":"#000","strokeWidth":2,"clip":true},"encoding":{"x":{"field":"w","type":"quantitative","title":null,"scale":{"domain":[17.45,18.35],"nice":false,"zero":false},"axis":{"values":[17.6,17.9,18.2],"format":".1f","labelExpr":"datum.index==0.5?'':datum.label"}},"y":{"field":"f","type":"quantitative","title":null,"scale":{"domain":[-0.4,1.6],"nice":false,"zero":false},"axis":{"values":[0,1],"labels":false,"minExtent":0,"maxExtent":0}}}},
{"mark":{"type":"line","color":"#f00","strokeWidth":2,"clip":true},"encoding":{"x":{"field":"w","type":"quantitative","title":null},"y":{"field":"r","type":"quantitative","title":null}}},
{"transform":[{"aggregate":[{"op":"count","as":"m"}],"groupby":["s","o","n","t","k"]}],"mark":{"type":"text","align":"left","dx":5,"font":"Liberation Serif","fontWeight":"bold","fontSize":7},"encoding":{"x":{"datum":17.45},"y":{"datum":1},"text":{"field":"t"}}},
{"transform":[{"filter":"datum.k==1"},{"aggregate":[{"op":"count","as":"m"}],"groupby":["s","o","n"]}],"mark":{"type":"text","text":"✱","fontSize":9},"encoding":{"x":{"datum":18.16},"y":{"datum":1.12}}}
]}},
{"data":{"name":"panels"},"transform":[{"filter":"datum.g=='L' && datum.c==3"},{"lookup":"c","from":{"data":{"name":"grid"},"key":"c","fields":["n","w"]}},{"flatten":["w","f","r"]}],
"facet":{"row":{"field":"s","type":"nominal","sort":{"field":"o","op":"min"},"title":null,"header":{"labels":false}},"column":{"field":"n","type":"nominal","title":null}},"spacing":0,"bounds":"flush",
"spec":{"width":65.3,"height":46.6,"layer":[
{"transform":[{"aggregate":[{"op":"valid","field":"f","as":"nv"}],"groupby":["s","o","n","t","k"]},{"filter":"datum.nv>0"}],"mark":{"type":"rule","strokeDash":[3,2],"strokeWidth":1,"color":"#000"},"encoding":{"y":{"datum":0}}},
{"mark":{"type":"line","color":"#000","strokeWidth":2,"clip":true},"encoding":{"x":{"field":"w","type":"quantitative","title":null,"scale":{"domain":[25.25,26.75],"nice":false,"zero":false},"axis":{"values":[25.5,26.0,26.5],"format":".1f","labelExpr":"datum.index==0.5?'':datum.label"}},"y":{"field":"f","type":"quantitative","title":null,"scale":{"domain":[-0.4,1.6],"nice":false,"zero":false},"axis":{"values":[0,1],"labels":false,"minExtent":0,"maxExtent":0}}}},
{"mark":{"type":"line","color":"#f00","strokeWidth":2,"clip":true},"encoding":{"x":{"field":"w","type":"quantitative","title":null},"y":{"field":"r","type":"quantitative","title":null}}},
{"transform":[{"aggregate":[{"op":"count","as":"m"}],"groupby":["s","o","n","t","k"]}],"mark":{"type":"text","align":"left","dx":5,"font":"Liberation Serif","fontWeight":"bold","fontSize":7},"encoding":{"x":{"datum":25.25},"y":{"datum":1},"text":{"field":"t"}}},
{"transform":[{"filter":"datum.k==1"},{"aggregate":[{"op":"count","as":"m"}],"groupby":["s","o","n"]}],"mark":{"type":"text","text":"✱","fontSize":9},"encoding":{"x":{"datum":26.44},"y":{"datum":1.12}}}
]}},
{"data":{"name":"panels"},"transform":[{"filter":"datum.g=='L' && datum.c==4"},{"lookup":"c","from":{"data":{"name":"grid"},"key":"c","fields":["n","w"]}},{"flatten":["w","f","r"]}],
"facet":{"row":{"field":"s","type":"nominal","sort":{"field":"o","op":"min"},"title":null,"header":{"labels":false}},"column":{"field":"n","type":"nominal","title":null}},"spacing":0,"bounds":"flush",
"spec":{"width":65.3,"height":46.6,"layer":[
{"transform":[{"aggregate":[{"op":"valid","field":"f","as":"nv"}],"groupby":["s","o","n","t","k"]},{"filter":"datum.nv>0"}],"mark":{"type":"rule","strokeDash":[3,2],"strokeWidth":1,"color":"#000"},"encoding":{"y":{"datum":0}}},
{"mark":{"type":"line","color":"#000","strokeWidth":2,"clip":true},"encoding":{"x":{"field":"w","type":"quantitative","title":null,"scale":{"domain":[24.45,25.95],"nice":false,"zero":false},"axis":{"values":[24.7,25.2,25.7],"format":".1f","labelExpr":"datum.index==0.5?'':datum.label"}},"y":{"field":"f","type":"quantitative","title":null,"scale":{"domain":[-0.4,1.6],"nice":false,"zero":false},"axis":{"values":[0,1],"labels":false,"minExtent":0,"maxExtent":0}}}},
{"mark":{"type":"line","color":"#f00","strokeWidth":2,"clip":true},"encoding":{"x":{"field":"w","type":"quantitative","title":null},"y":{"field":"r","type":"quantitative","title":null}}},
{"transform":[{"aggregate":[{"op":"count","as":"m"}],"groupby":["s","o","n","t","k"]}],"mark":{"type":"text","align":"left","dx":5,"font":"Liberation Serif","fontWeight":"bold","fontSize":7},"encoding":{"x":{"datum":24.45},"y":{"datum":1},"text":{"field":"t"}}},
{"transform":[{"filter":"datum.k==1"},{"aggregate":[{"op":"count","as":"m"}],"groupby":["s","o","n"]}],"mark":{"type":"text","text":"✱","fontSize":9},"encoding":{"x":{"datum":25.64},"y":{"datum":1.12}}}
]}},
{"data":{"name":"panels"},"transform":[{"filter":"datum.g=='L' && datum.c==5"},{"lookup":"c","from":{"data":{"name":"grid"},"key":"c","fields":["n","w"]}},{"flatten":["w","f","r"]}],
"facet":{"row":{"field":"s","type":"nominal","sort":{"field":"o","op":"min"},"title":null,"header":{"labels":false}},"column":{"field":"n","type":"nominal","title":null}},"spacing":0,"bounds":"flush",
"spec":{"width":65.3,"height":46.6,"layer":[
{"transform":[{"aggregate":[{"op":"valid","field":"f","as":"nv"}],"groupby":["s","o","n","t","k"]},{"filter":"datum.nv>0"}],"mark":{"type":"rule","strokeDash":[3,2],"strokeWidth":1,"color":"#000"},"encoding":{"y":{"datum":0}}},
{"mark":{"type":"line","color":"#000","strokeWidth":2,"clip":true},"encoding":{"x":{"field":"w","type":"quantitative","title":null,"scale":{"domain":[34.05,35.55],"nice":false,"zero":false},"axis":{"values":[34.3,34.8,35.3],"format":".1f","labelExpr":"datum.index==0.5?'':datum.label"}},"y":{"field":"f","type":"quantitative","title":null,"scale":{"domain":[-0.4,1.6],"nice":false,"zero":false},"axis":{"values":[0,1],"labels":false,"minExtent":0,"maxExtent":0}}}},
{"mark":{"type":"line","color":"#f00","strokeWidth":2,"clip":true},"encoding":{"x":{"field":"w","type":"quantitative","title":null},"y":{"field":"r","type":"quantitative","title":null}}},
{"transform":[{"aggregate":[{"op":"count","as":"m"}],"groupby":["s","o","n","t","k"]}],"mark":{"type":"text","align":"left","dx":5,"font":"Liberation Serif","fontWeight":"bold","fontSize":7},"encoding":{"x":{"datum":34.05},"y":{"datum":1},"text":{"field":"t"}}},
{"transform":[{"filter":"datum.k==1"},{"aggregate":[{"op":"count","as":"m"}],"groupby":["s","o","n"]}],"mark":{"type":"text","text":"✱","fontSize":9},"encoding":{"x":{"datum":35.24},"y":{"datum":1.12}}}
]}}
],"spacing":-3.5,"title":{"text":"Wavelength [μm]","orient":"bottom","fontSize":15,"offset":2}}],
"title":{"text":"Flux [mJy]","orient":"left","fontSize":14,"offset":8}},
{"vconcat":[
{"data":{"values":[{}]},"mark":{"type":"point","opacity":0},"encoding":{},"width":300,"height":35,"view":{"stroke":null}},
{"hconcat":[{"hconcat":[
{"data":{"name":"panels"},"transform":[{"filter":"datum.g=='R' && datum.c==1"},{"lookup":"c","from":{"data":{"name":"grid"},"key":"c","fields":["n","w"]}},{"flatten":["w","f","r"]}],
"facet":{"row":{"field":"s","type":"nominal","sort":{"field":"o","op":"min"},"title":null,"header":{"labelAngle":-90,"labelPadding":11,"labelFontSize":7.5}},"column":{"field":"n","type":"nominal","title":null}},"spacing":0,"bounds":"flush",
"spec":{"width":65.3,"height":46.6,"layer":[
{"transform":[{"aggregate":[{"op":"valid","field":"f","as":"nv"}],"groupby":["s","o","n","t","k"]},{"filter":"datum.nv>0"}],"mark":{"type":"rule","strokeDash":[3,2],"strokeWidth":1,"color":"#000"},"encoding":{"y":{"datum":0}}},
{"mark":{"type":"line","color":"#000","strokeWidth":2,"clip":true},"encoding":{"x":{"field":"w","type":"quantitative","title":null,"scale":{"domain":[12.5,13.1],"nice":false,"zero":false},"axis":{"values":[12.6,12.8,13.0],"format":".1f","labelExpr":"datum.index==0.5?'':datum.label"}},"y":{"field":"f","type":"quantitative","title":null,"scale":{"domain":[-0.4,1.6],"nice":false,"zero":false},"axis":{"values":[0,1],"labels":false,"minExtent":0,"maxExtent":0}}}},
{"mark":{"type":"line","color":"#f00","strokeWidth":2,"clip":true},"encoding":{"x":{"field":"w","type":"quantitative","title":null},"y":{"field":"r","type":"quantitative","title":null}}},
{"transform":[{"aggregate":[{"op":"count","as":"m"}],"groupby":["s","o","n","t","k"]}],"mark":{"type":"text","align":"left","dx":5,"font":"Liberation Serif","fontWeight":"bold","fontSize":7},"encoding":{"x":{"datum":12.5},"y":{"datum":1},"text":{"field":"t"}}},
{"transform":[{"filter":"datum.k==1"},{"aggregate":[{"op":"count","as":"m"}],"groupby":["s","o","n"]}],"mark":{"type":"text","text":"✱","fontSize":9},"encoding":{"x":{"datum":12.97},"y":{"datum":1.12}}}
]}},
{"data":{"name":"panels"},"transform":[{"filter":"datum.g=='R' && datum.c==2"},{"lookup":"c","from":{"data":{"name":"grid"},"key":"c","fields":["n","w"]}},{"flatten":["w","f","r"]}],
"facet":{"row":{"field":"s","type":"nominal","sort":{"field":"o","op":"min"},"title":null,"header":{"labels":false}},"column":{"field":"n","type":"nominal","title":null}},"spacing":0,"bounds":"flush",
"spec":{"width":65.3,"height":46.6,"layer":[
{"transform":[{"aggregate":[{"op":"valid","field":"f","as":"nv"}],"groupby":["s","o","n","t","k"]},{"filter":"datum.nv>0"}],"mark":{"type":"rule","strokeDash":[3,2],"strokeWidth":1,"color":"#000"},"encoding":{"y":{"datum":0}}},
{"mark":{"type":"line","color":"#000","strokeWidth":2,"clip":true},"encoding":{"x":{"field":"w","type":"quantitative","title":null,"scale":{"domain":[17.45,18.35],"nice":false,"zero":false},"axis":{"values":[17.6,17.9,18.2],"format":".1f","labelExpr":"datum.index==0.5?'':datum.label"}},"y":{"field":"f","type":"quantitative","title":null,"scale":{"domain":[-0.4,1.6],"nice":false,"zero":false},"axis":{"values":[0,1],"labels":false,"minExtent":0,"maxExtent":0}}}},
{"mark":{"type":"line","color":"#f00","strokeWidth":2,"clip":true},"encoding":{"x":{"field":"w","type":"quantitative","title":null},"y":{"field":"r","type":"quantitative","title":null}}},
{"transform":[{"aggregate":[{"op":"count","as":"m"}],"groupby":["s","o","n","t","k"]}],"mark":{"type":"text","align":"left","dx":5,"font":"Liberation Serif","fontWeight":"bold","fontSize":7},"encoding":{"x":{"datum":17.45},"y":{"datum":1},"text":{"field":"t"}}},
{"transform":[{"filter":"datum.k==1"},{"aggregate":[{"op":"count","as":"m"}],"groupby":["s","o","n"]}],"mark":{"type":"text","text":"✱","fontSize":9},"encoding":{"x":{"datum":18.16},"y":{"datum":1.12}}}
]}},
{"data":{"name":"panels"},"transform":[{"filter":"datum.g=='R' && datum.c==3"},{"lookup":"c","from":{"data":{"name":"grid"},"key":"c","fields":["n","w"]}},{"flatten":["w","f","r"]}],
"facet":{"row":{"field":"s","type":"nominal","sort":{"field":"o","op":"min"},"title":null,"header":{"labels":false}},"column":{"field":"n","type":"nominal","title":null}},"spacing":0,"bounds":"flush",
"spec":{"width":65.3,"height":46.6,"layer":[
{"transform":[{"aggregate":[{"op":"valid","field":"f","as":"nv"}],"groupby":["s","o","n","t","k"]},{"filter":"datum.nv>0"}],"mark":{"type":"rule","strokeDash":[3,2],"strokeWidth":1,"color":"#000"},"encoding":{"y":{"datum":0}}},
{"mark":{"type":"line","color":"#000","strokeWidth":2,"clip":true},"encoding":{"x":{"field":"w","type":"quantitative","title":null,"scale":{"domain":[25.25,26.75],"nice":false,"zero":false},"axis":{"values":[25.5,26.0,26.5],"format":".1f","labelExpr":"datum.index==0.5?'':datum.label"}},"y":{"field":"f","type":"quantitative","title":null,"scale":{"domain":[-0.4,1.6],"nice":false,"zero":false},"axis":{"values":[0,1],"labels":false,"minExtent":0,"maxExtent":0}}}},
{"mark":{"type":"line","color":"#f00","strokeWidth":2,"clip":true},"encoding":{"x":{"field":"w","type":"quantitative","title":null},"y":{"field":"r","type":"quantitative","title":null}}},
{"transform":[{"aggregate":[{"op":"count","as":"m"}],"groupby":["s","o","n","t","k"]}],"mark":{"type":"text","align":"left","dx":5,"font":"Liberation Serif","fontWeight":"bold","fontSize":7},"encoding":{"x":{"datum":25.25},"y":{"datum":1},"text":{"field":"t"}}},
{"transform":[{"filter":"datum.k==1"},{"aggregate":[{"op":"count","as":"m"}],"groupby":["s","o","n"]}],"mark":{"type":"text","text":"✱","fontSize":9},"encoding":{"x":{"datum":26.44},"y":{"datum":1.12}}}
]}},
{"data":{"name":"panels"},"transform":[{"filter":"datum.g=='R' && datum.c==4"},{"lookup":"c","from":{"data":{"name":"grid"},"key":"c","fields":["n","w"]}},{"flatten":["w","f","r"]}],
"facet":{"row":{"field":"s","type":"nominal","sort":{"field":"o","op":"min"},"title":null,"header":{"labels":false}},"column":{"field":"n","type":"nominal","title":null}},"spacing":0,"bounds":"flush",
"spec":{"width":65.3,"height":46.6,"layer":[
{"transform":[{"aggregate":[{"op":"valid","field":"f","as":"nv"}],"groupby":["s","o","n","t","k"]},{"filter":"datum.nv>0"}],"mark":{"type":"rule","strokeDash":[3,2],"strokeWidth":1,"color":"#000"},"encoding":{"y":{"datum":0}}},
{"mark":{"type":"line","color":"#000","strokeWidth":2,"clip":true},"encoding":{"x":{"field":"w","type":"quantitative","title":null,"scale":{"domain":[24.45,25.95],"nice":false,"zero":false},"axis":{"values":[24.7,25.2,25.7],"format":".1f","labelExpr":"datum.index==0.5?'':datum.label"}},"y":{"field":"f","type":"quantitative","title":null,"scale":{"domain":[-0.4,1.6],"nice":false,"zero":false},"axis":{"values":[0,1],"labels":false,"minExtent":0,"maxExtent":0}}}},
{"mark":{"type":"line","color":"#f00","strokeWidth":2,"clip":true},"encoding":{"x":{"field":"w","type":"quantitative","title":null},"y":{"field":"r","type":"quantitative","title":null}}},
{"transform":[{"aggregate":[{"op":"count","as":"m"}],"groupby":["s","o","n","t","k"]}],"mark":{"type":"text","align":"left","dx":5,"font":"Liberation Serif","fontWeight":"bold","fontSize":7},"encoding":{"x":{"datum":24.45},"y":{"datum":1},"text":{"field":"t"}}},
{"transform":[{"filter":"datum.k==1"},{"aggregate":[{"op":"count","as":"m"}],"groupby":["s","o","n"]}],"mark":{"type":"text","text":"✱","fontSize":9},"encoding":{"x":{"datum":25.64},"y":{"datum":1.12}}}
]}},
{"data":{"name":"panels"},"transform":[{"filter":"datum.g=='R' && datum.c==5"},{"lookup":"c","from":{"data":{"name":"grid"},"key":"c","fields":["n","w"]}},{"flatten":["w","f","r"]}],
"facet":{"row":{"field":"s","type":"nominal","sort":{"field":"o","op":"min"},"title":null,"header":{"labels":false}},"column":{"field":"n","type":"nominal","title":null}},"spacing":0,"bounds":"flush",
"spec":{"width":65.3,"height":46.6,"layer":[
{"transform":[{"aggregate":[{"op":"valid","field":"f","as":"nv"}],"groupby":["s","o","n","t","k"]},{"filter":"datum.nv>0"}],"mark":{"type":"rule","strokeDash":[3,2],"strokeWidth":1,"color":"#000"},"encoding":{"y":{"datum":0}}},
{"mark":{"type":"line","color":"#000","strokeWidth":2,"clip":true},"encoding":{"x":{"field":"w","type":"quantitative","title":null,"scale":{"domain":[34.05,35.55],"nice":false,"zero":false},"axis":{"values":[34.3,34.8,35.3],"format":".1f","labelExpr":"datum.index==0.5?'':datum.label"}},"y":{"field":"f","type":"quantitative","title":null,"scale":{"domain":[-0.4,1.6],"nice":false,"zero":false},"axis":{"values":[0,1],"labels":false,"minExtent":0,"maxExtent":0}}}},
{"mark":{"type":"line","color":"#f00","strokeWidth":2,"clip":true},"encoding":{"x":{"field":"w","type":"quantitative","title":null},"y":{"field":"r","type":"quantitative","title":null}}},
{"transform":[{"aggregate":[{"op":"count","as":"m"}],"groupby":["s","o","n","t","k"]}],"mark":{"type":"text","align":"left","dx":5,"font":"Liberation Serif","fontWeight":"bold","fontSize":7},"encoding":{"x":{"datum":34.05},"y":{"datum":1},"text":{"field":"t"}}},
{"transform":[{"filter":"datum.k==1"},{"aggregate":[{"op":"count","as":"m"}],"groupby":["s","o","n"]}],"mark":{"type":"text","text":"✱","fontSize":9},"encoding":{"x":{"datum":35.24},"y":{"datum":1.12}}}
]}}
],"spacing":-3.5,"title":{"text":"Wavelength [μm]","orient":"bottom","fontSize":15,"offset":2}}],
"title":{"text":"Flux [mJy]","orient":"left","fontSize":14,"offset":2}}
],"spacing":0}
],
"spacing":0,
"config":{
"view":{"stroke":"#000","strokeWidth":2},
"axis":{"domain":false,"grid":false,"tickColor":"#000","tickSize":-4,"tickWidth":1.5,"labelFont":"Liberation Serif","labelFontSize":7,"labelFontWeight":"bold","labelColor":"#000","labelPadding":1},
"header":{"labelFont":"Liberation Serif","labelFontSize":10,"labelColor":"#000","labelPadding":2},
"title":{"font":"Liberation Serif","fontWeight":"normal","color":"#000","anchor":"middle"},
"text":{"color":"#000"}
}
}
